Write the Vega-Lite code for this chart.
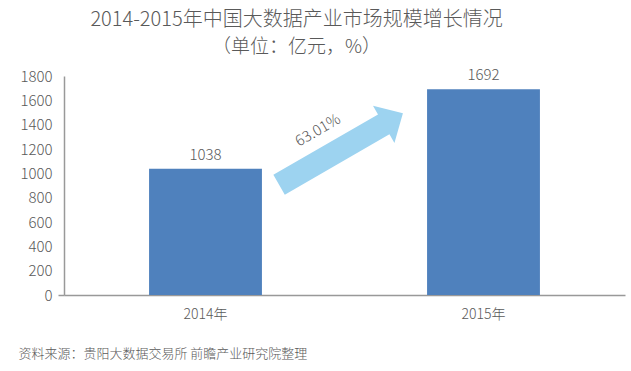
{
  "$schema": "https://vega.github.io/schema/vega-lite/v6.json",
  "width": 561,
  "height": 219,
  "autosize": {"type": "none"},
  "padding": {"left": 64, "top": 76, "right": 6, "bottom": 76},
  "background": "white",
  "config": {
    "view": {"stroke": null},
    "font": "Noto Sans CJK SC",
    "axisY": {
      "title": null,
      "format": "d",
      "labelOverlap": false,
      "grid": false,
      "domainColor": "#999999",
      "domainWidth": 1.5,
      "labelColor": "#595959",
      "labelFontSize": 15,
      "labelFontWeight": 300,
      "labelPadding": 6,
      "ticks": true,
      "tickSize": 6,
      "tickWidth": 1.5
    }
  },
  "title": {
    "text": "2014-2015年中国大数据产业市场规模增长情况",
    "subtitle": "（单位：亿元，%）",
    "fontSize": 20,
    "subtitleFontSize": 19,
    "fontWeight": 300,
    "subtitleFontWeight": 300,
    "color": "#595959",
    "subtitleColor": "#595959",
    "anchor": "middle",
    "frame": "group",
    "dx": -48,
    "offset": 11,
    "subtitlePadding": 8
  },
  "layer": [
    {
      "data": {"values": [
        {"year": "2014年", "value": 1038},
        {"year": "2015年", "value": 1692}
      ]},
      "layer": [
        {
          "mark": {"type": "bar", "color": "#4f81bd"},
          "encoding": {
            "x": {
              "field": "year", "type": "nominal", "sort": null,
              "scale": {"paddingInner": 0.594, "paddingOuter": 0.306},
              "axis": {
                "title": "资料来源：贵阳大数据交易所 前瞻产业研究院整理",
                "titleAnchor": "start",
                "titleAlign": "left",
                "titleX": -46,
                "titleY": 62,
                "titleBaseline": "alphabetic",
                "titleFontSize": 13,
                "titleFontWeight": 300,
                "titleColor": "#595959",
                "labelAngle": 0,
                "labelFontSize": 14,
                "labelFontWeight": 300,
                "labelColor": "#595959",
                "labelPadding": 12,
                "ticks": false,
                "domainColor": "#999999",
                "domainWidth": 1.5
              }
            },
            "y": {
              "field": "value", "type": "quantitative",
              "scale": {"domain": [0, 1800], "nice": false},
              "axis": {
                "values": [0, 200, 400, 600, 800, 1000, 1200, 1400, 1600, 1800],
                "tickColor": {"condition": {"test": "datum.value === 0", "value": "#999999"}, "value": "transparent"}
              }
            }
          }
        },
        {
          "mark": {"type": "text", "baseline": "bottom", "dy": -6, "fontSize": 15, "fontWeight": 300, "color": "#595959"},
          "encoding": {
            "x": {"field": "year", "type": "nominal", "sort": null},
            "y": {
              "field": "value", "type": "quantitative",
              "axis": {
                "values": [0, 200, 400, 600, 800, 1000, 1200, 1400, 1600, 1800],
                "tickColor": {"condition": {"test": "datum.value === 0", "value": "#999999"}, "value": "transparent"}
              }
            },
            "text": {"field": "value", "type": "quantitative", "format": "d"}
          }
        }
      ]
    },
    {
      "data": {"values": [
        {"pos": 2014.491, "value": 1200, "kind": "arrow", "label": ""},
        {"pos": 2014.408, "value": 1356, "kind": "label", "label": "63.01%"}
      ]},
      "layer": [
        {
          "transform": [{"filter": "datum.kind === 'arrow'"}],
          "mark": {
            "type": "point",
            "shape": "M-1,-0.16L0.69,-0.16L0.69,-0.3L1,0L0.69,0.3L0.69,0.16L-1,0.16Z",
            "size": 20449,
            "angle": -30,
            "filled": true,
            "color": "#9dd3f0",
            "opacity": 1,
            "strokeWidth": 0
          },
          "encoding": {
            "x": {"field": "pos", "type": "quantitative", "scale": {"domain": [2013.4946, 2015.5126], "nice": false, "zero": false}, "axis": null},
            "y": {
              "field": "value", "type": "quantitative",
              "axis": {
                "values": [0, 200, 400, 600, 800, 1000, 1200, 1400, 1600, 1800],
                "tickColor": {"condition": {"test": "datum.value === 0", "value": "#999999"}, "value": "transparent"}
              }
            }
          }
        },
        {
          "transform": [{"filter": "datum.kind === 'label'"}],
          "mark": {"type": "text", "angle": -30, "fontSize": 15, "fontWeight": 300, "color": "#595959"},
          "encoding": {
            "x": {"field": "pos", "type": "quantitative", "scale": {"domain": [2013.4946, 2015.5126], "nice": false, "zero": false}, "axis": null},
            "y": {
              "field": "value", "type": "quantitative",
              "axis": {
                "values": [0, 200, 400, 600, 800, 1000, 1200, 1400, 1600, 1800],
                "tickColor": {"condition": {"test": "datum.value === 0", "value": "#999999"}, "value": "transparent"}
              }
            },
            "text": {"field": "label"}
          }
        }
      ]
    }
  ],
  "resolve": {"scale": {"x": "independent"}}
}
